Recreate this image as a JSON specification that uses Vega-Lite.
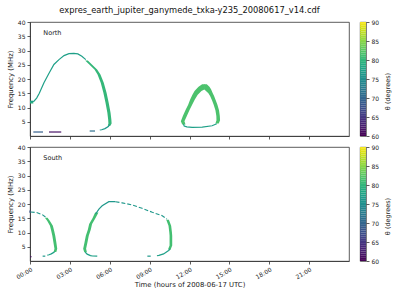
{
  "$schema": "https://vega.github.io/schema/vega-lite/v6.json",
  "padding": {"left": 5, "top": 5, "right": 5, "bottom": 5},
  "datasets": {
    "lines": [
      {"panel": "North", "seg": "n1", "i": 0, "t": 0, "f": 12, "theta": 77},
      {"panel": "North", "seg": "n1", "i": 1, "t": 0.3, "f": 12.2, "theta": 77},
      {"panel": "North", "seg": "n1", "i": 2, "t": 0.5, "f": 13.3, "theta": 77},
      {"panel": "North", "seg": "n1", "i": 3, "t": 0.7, "f": 15, "theta": 77},
      {"panel": "North", "seg": "n1", "i": 4, "t": 1.05, "f": 18.7, "theta": 77},
      {"panel": "North", "seg": "n1", "i": 5, "t": 1.43, "f": 22, "theta": 77},
      {"panel": "North", "seg": "n1", "i": 6, "t": 1.8, "f": 25.1, "theta": 77},
      {"panel": "North", "seg": "n1", "i": 7, "t": 2.18, "f": 26.8, "theta": 77},
      {"panel": "North", "seg": "n1", "i": 8, "t": 2.56, "f": 28.2, "theta": 77},
      {"panel": "North", "seg": "n1", "i": 9, "t": 2.93, "f": 28.9, "theta": 77},
      {"panel": "North", "seg": "n1", "i": 10, "t": 3.3, "f": 29, "theta": 77},
      {"panel": "North", "seg": "n1", "i": 11, "t": 3.6, "f": 28.8, "theta": 77},
      {"panel": "North", "seg": "n1", "i": 12, "t": 3.9, "f": 28, "theta": 77},
      {"panel": "North", "seg": "n1", "i": 13, "t": 4.2, "f": 26.8, "theta": 77},
      {"panel": "North", "seg": "n1t", "i": 0, "t": 6.0, "f": 4.0, "theta": 76},
      {"panel": "North", "seg": "n1t", "i": 1, "t": 5.89, "f": 3.3, "theta": 76},
      {"panel": "North", "seg": "n1t", "i": 2, "t": 5.64, "f": 2.6, "theta": 76},
      {"panel": "North", "seg": "n1t", "i": 3, "t": 5.39, "f": 2.2, "theta": 76},
      {"panel": "North", "seg": "n1t", "i": 4, "t": 5.25, "f": 2.1, "theta": 76},
      {"panel": "North", "seg": "nd1", "i": 0, "t": 0.25, "f": 1.4, "theta": 69},
      {"panel": "North", "seg": "nd1", "i": 1, "t": 0.98, "f": 1.4, "theta": 69},
      {"panel": "North", "seg": "nd2", "i": 0, "t": 1.43, "f": 1.4, "theta": 61.5},
      {"panel": "North", "seg": "nd2", "i": 1, "t": 2.35, "f": 1.4, "theta": 61.5},
      {"panel": "North", "seg": "nd3", "i": 0, "t": 4.49, "f": 1.75, "theta": 71},
      {"panel": "North", "seg": "nd3", "i": 1, "t": 4.89, "f": 1.75, "theta": 71},
      {"panel": "North", "seg": "tb", "i": 0, "t": 11.55, "f": 4.2, "theta": 77},
      {"panel": "North", "seg": "tb", "i": 1, "t": 11.6, "f": 3.5, "theta": 77},
      {"panel": "North", "seg": "tb", "i": 2, "t": 11.8, "f": 3.2, "theta": 77},
      {"panel": "North", "seg": "tb", "i": 3, "t": 12.2, "f": 3.05, "theta": 77},
      {"panel": "North", "seg": "tb", "i": 4, "t": 12.96, "f": 3.1, "theta": 77},
      {"panel": "North", "seg": "tb", "i": 5, "t": 13.7, "f": 3.6, "theta": 77},
      {"panel": "North", "seg": "tb", "i": 6, "t": 14.05, "f": 4.3, "theta": 77},
      {"panel": "South", "seg": "s0", "i": 0, "t": 0, "f": 1.5, "theta": 61},
      {"panel": "South", "seg": "s0", "i": 1, "t": 0.12, "f": 1.5, "theta": 61},
      {"panel": "South", "seg": "s00", "i": 0, "t": 0, "f": 16.9, "theta": 68},
      {"panel": "South", "seg": "s00", "i": 1, "t": 0, "f": 17.7, "theta": 68},
      {"panel": "South", "seg": "sat", "i": 0, "t": 1.85, "f": 3.2, "theta": 77},
      {"panel": "South", "seg": "sat", "i": 1, "t": 1.6, "f": 2.5, "theta": 77},
      {"panel": "South", "seg": "sat", "i": 2, "t": 1.43, "f": 2.2, "theta": 77},
      {"panel": "South", "seg": "sat", "i": 3, "t": 1.3, "f": 2.0, "theta": 77},
      {"panel": "South", "seg": "sad", "i": 0, "t": 0.95, "f": 1.7, "theta": 76},
      {"panel": "South", "seg": "sad", "i": 1, "t": 1.15, "f": 1.7, "theta": 76},
      {"panel": "South", "seg": "sbl", "i": 0, "t": 4.15, "f": 3.1, "theta": 77},
      {"panel": "South", "seg": "sbl", "i": 1, "t": 4.3, "f": 2.4, "theta": 77},
      {"panel": "South", "seg": "sbl", "i": 2, "t": 4.55, "f": 1.9, "theta": 77},
      {"panel": "South", "seg": "sbl", "i": 3, "t": 4.7, "f": 1.75, "theta": 77},
      {"panel": "South", "seg": "sbl", "i": 4, "t": 5.06, "f": 1.7, "theta": 77},
      {"panel": "South", "seg": "sbt", "i": 0, "t": 4.93, "f": 16.5, "theta": 76},
      {"panel": "South", "seg": "sbt", "i": 1, "t": 5.2, "f": 18.3, "theta": 76},
      {"panel": "South", "seg": "sbt", "i": 2, "t": 5.43, "f": 19.4, "theta": 76},
      {"panel": "South", "seg": "sbt", "i": 3, "t": 5.93, "f": 20.8, "theta": 76},
      {"panel": "South", "seg": "sbt", "i": 4, "t": 6.43, "f": 20.8, "theta": 76},
      {"panel": "South", "seg": "sbr", "i": 0, "t": 10.55, "f": 4.2, "theta": 77},
      {"panel": "South", "seg": "sbr", "i": 1, "t": 10.43, "f": 3.7, "theta": 77},
      {"panel": "South", "seg": "sbr", "i": 2, "t": 10.05, "f": 2.5, "theta": 77},
      {"panel": "South", "seg": "sbr", "i": 3, "t": 9.7, "f": 1.95, "theta": 77},
      {"panel": "South", "seg": "sbr", "i": 4, "t": 9.55, "f": 1.85, "theta": 77},
      {"panel": "South", "seg": "sbd", "i": 0, "t": 8.83, "f": 1.7, "theta": 76},
      {"panel": "South", "seg": "sbd", "i": 1, "t": 9.08, "f": 1.7, "theta": 76}
    ],
    "dotted": [
      {"panel": "South", "seg": "sa", "i": 0, "t": 0.05, "f": 17.2, "theta": 76},
      {"panel": "South", "seg": "sa", "i": 1, "t": 0.5, "f": 17.0, "theta": 76},
      {"panel": "South", "seg": "sa", "i": 2, "t": 0.92, "f": 16.3, "theta": 76},
      {"panel": "South", "seg": "sa", "i": 3, "t": 1.2, "f": 15.3, "theta": 76},
      {"panel": "South", "seg": "sbu", "i": 0, "t": 6.43, "f": 20.8, "theta": 76},
      {"panel": "South", "seg": "sbu", "i": 1, "t": 6.93, "f": 20.4, "theta": 76},
      {"panel": "South", "seg": "sbu", "i": 2, "t": 7.68, "f": 19.7, "theta": 76},
      {"panel": "South", "seg": "sbu", "i": 3, "t": 8.43, "f": 18.5, "theta": 76},
      {"panel": "South", "seg": "sbu", "i": 4, "t": 9.2, "f": 17.1, "theta": 76},
      {"panel": "South", "seg": "sbu", "i": 5, "t": 9.95, "f": 15.9, "theta": 76},
      {"panel": "South", "seg": "sbu", "i": 6, "t": 10.3, "f": 14.7, "theta": 76}
    ],
    "bands": [
      {"panel": "North", "seg": "n0", "f": 11.4, "t0": 0, "t1": 0.25, "theta": 79},
      {"panel": "North", "seg": "n0", "f": 12.4, "t0": 0, "t1": 0.25, "theta": 79},
      {"panel": "North", "seg": "n1b", "f": 26.5, "t0": 4.15, "t1": 4.35, "theta": 80},
      {"panel": "North", "seg": "n1b", "f": 25, "t0": 4.48, "t1": 4.68, "theta": 80},
      {"panel": "North", "seg": "n1b", "f": 23.3, "t0": 4.85, "t1": 5.05, "theta": 80},
      {"panel": "North", "seg": "n1b", "f": 21.6, "t0": 5.08, "t1": 5.3, "theta": 80},
      {"panel": "North", "seg": "n1b", "f": 18.7, "t0": 5.32, "t1": 5.55, "theta": 80},
      {"panel": "North", "seg": "n1b", "f": 15.2, "t0": 5.52, "t1": 5.76, "theta": 80},
      {"panel": "North", "seg": "n1b", "f": 11.7, "t0": 5.68, "t1": 5.92, "theta": 80},
      {"panel": "North", "seg": "n1b", "f": 8.2, "t0": 5.82, "t1": 6.06, "theta": 80},
      {"panel": "North", "seg": "n1b", "f": 5.8, "t0": 5.88, "t1": 6.12, "theta": 80},
      {"panel": "North", "seg": "n1b", "f": 4.4, "t0": 5.9, "t1": 6.14, "theta": 80},
      {"panel": "North", "seg": "n1b", "f": 3.6, "t0": 5.85, "t1": 6.05, "theta": 80},
      {"panel": "North", "seg": "tl", "f": 4.0, "t0": 11.45, "t1": 11.7, "theta": 81.5},
      {"panel": "North", "seg": "tl", "f": 5.2, "t0": 11.35, "t1": 11.62, "theta": 81.5},
      {"panel": "North", "seg": "tl", "f": 7.0, "t0": 11.5, "t1": 11.8, "theta": 81.5},
      {"panel": "North", "seg": "tl", "f": 9.3, "t0": 11.72, "t1": 12.02, "theta": 81.5},
      {"panel": "North", "seg": "tl", "f": 11, "t0": 11.9, "t1": 12.2, "theta": 81.5},
      {"panel": "North", "seg": "tl", "f": 12.8, "t0": 12.05, "t1": 12.4, "theta": 81.5},
      {"panel": "North", "seg": "tl", "f": 14.5, "t0": 12.22, "t1": 12.62, "theta": 81.5},
      {"panel": "North", "seg": "tl", "f": 15.8, "t0": 12.38, "t1": 12.9, "theta": 81.5},
      {"panel": "North", "seg": "tl", "f": 16.4, "t0": 12.5, "t1": 13.15, "theta": 81.5},
      {"panel": "North", "seg": "tl", "f": 17.3, "t0": 12.68, "t1": 13.15, "theta": 81.5},
      {"panel": "North", "seg": "tl", "f": 18.2, "t0": 12.95, "t1": 13.15, "theta": 81.5},
      {"panel": "North", "seg": "tr", "f": 18.2, "t0": 13.1, "t1": 13.3, "theta": 81.5},
      {"panel": "North", "seg": "tr", "f": 17.3, "t0": 13.1, "t1": 13.5, "theta": 81.5},
      {"panel": "North", "seg": "tr", "f": 16.4, "t0": 13.1, "t1": 13.62, "theta": 81.5},
      {"panel": "North", "seg": "tr", "f": 15, "t0": 13.42, "t1": 13.75, "theta": 81.5},
      {"panel": "North", "seg": "tr", "f": 14, "t0": 13.55, "t1": 13.85, "theta": 81.5},
      {"panel": "North", "seg": "tr", "f": 12.5, "t0": 13.7, "t1": 13.98, "theta": 81.5},
      {"panel": "North", "seg": "tr", "f": 11, "t0": 13.82, "t1": 14.1, "theta": 81.5},
      {"panel": "North", "seg": "tr", "f": 9, "t0": 13.95, "t1": 14.22, "theta": 81.5},
      {"panel": "North", "seg": "tr", "f": 7, "t0": 14.02, "t1": 14.28, "theta": 81.5},
      {"panel": "North", "seg": "tr", "f": 5.5, "t0": 14.03, "t1": 14.3, "theta": 81.5},
      {"panel": "North", "seg": "tr", "f": 4.4, "t0": 13.95, "t1": 14.2, "theta": 81.5},
      {"panel": "South", "seg": "sa", "f": 15.2, "t0": 1.12, "t1": 1.32, "theta": 81},
      {"panel": "South", "seg": "sa", "f": 14, "t0": 1.3, "t1": 1.5, "theta": 81},
      {"panel": "South", "seg": "sa", "f": 12.4, "t0": 1.5, "t1": 1.72, "theta": 81},
      {"panel": "South", "seg": "sa", "f": 10.5, "t0": 1.6, "t1": 1.82, "theta": 81},
      {"panel": "South", "seg": "sa", "f": 8.9, "t0": 1.68, "t1": 1.9, "theta": 81},
      {"panel": "South", "seg": "sa", "f": 6.6, "t0": 1.76, "t1": 1.98, "theta": 81},
      {"panel": "South", "seg": "sa", "f": 4.3, "t0": 1.84, "t1": 2.05, "theta": 81},
      {"panel": "South", "seg": "sa", "f": 3.2, "t0": 1.78, "t1": 1.98, "theta": 81},
      {"panel": "South", "seg": "sbl", "f": 17, "t0": 4.9, "t1": 5.15, "theta": 81},
      {"panel": "South", "seg": "sbl", "f": 15, "t0": 4.7, "t1": 4.92, "theta": 81},
      {"panel": "South", "seg": "sbl", "f": 13, "t0": 4.45, "t1": 4.67, "theta": 81},
      {"panel": "South", "seg": "sbl", "f": 11, "t0": 4.35, "t1": 4.57, "theta": 81},
      {"panel": "South", "seg": "sbl", "f": 8.9, "t0": 4.2, "t1": 4.42, "theta": 81},
      {"panel": "South", "seg": "sbl", "f": 6.5, "t0": 4.1, "t1": 4.32, "theta": 81},
      {"panel": "South", "seg": "sbl", "f": 4.3, "t0": 4.0, "t1": 4.22, "theta": 81},
      {"panel": "South", "seg": "sbl", "f": 3.1, "t0": 4.08, "t1": 4.28, "theta": 81},
      {"panel": "South", "seg": "sbr", "f": 14.5, "t0": 10.25, "t1": 10.45, "theta": 81},
      {"panel": "South", "seg": "sbr", "f": 12.4, "t0": 10.42, "t1": 10.62, "theta": 81},
      {"panel": "South", "seg": "sbr", "f": 10, "t0": 10.48, "t1": 10.68, "theta": 81},
      {"panel": "South", "seg": "sbr", "f": 8.9, "t0": 10.5, "t1": 10.7, "theta": 81},
      {"panel": "South", "seg": "sbr", "f": 5.4, "t0": 10.5, "t1": 10.7, "theta": 81},
      {"panel": "South", "seg": "sbr", "f": 4, "t0": 10.38, "t1": 10.58, "theta": 81}
    ],
    "labels": [
      {"panel": "North", "t": 1.0, "f": 36.3, "label": "North"},
      {"panel": "South", "t": 1.0, "f": 36.3, "label": "South"}
    ],
    "cbar": [
      {"lo": 60, "hi": 60.5}, {"lo": 60.5, "hi": 61}, {"lo": 61, "hi": 61.5}, {"lo": 61.5, "hi": 62},
      {"lo": 62, "hi": 62.5}, {"lo": 62.5, "hi": 63}, {"lo": 63, "hi": 63.5}, {"lo": 63.5, "hi": 64},
      {"lo": 64, "hi": 64.5}, {"lo": 64.5, "hi": 65}, {"lo": 65, "hi": 65.5}, {"lo": 65.5, "hi": 66},
      {"lo": 66, "hi": 66.5}, {"lo": 66.5, "hi": 67}, {"lo": 67, "hi": 67.5}, {"lo": 67.5, "hi": 68},
      {"lo": 68, "hi": 68.5}, {"lo": 68.5, "hi": 69}, {"lo": 69, "hi": 69.5}, {"lo": 69.5, "hi": 70},
      {"lo": 70, "hi": 70.5}, {"lo": 70.5, "hi": 71}, {"lo": 71, "hi": 71.5}, {"lo": 71.5, "hi": 72},
      {"lo": 72, "hi": 72.5}, {"lo": 72.5, "hi": 73}, {"lo": 73, "hi": 73.5}, {"lo": 73.5, "hi": 74},
      {"lo": 74, "hi": 74.5}, {"lo": 74.5, "hi": 75}, {"lo": 75, "hi": 75.5}, {"lo": 75.5, "hi": 76},
      {"lo": 76, "hi": 76.5}, {"lo": 76.5, "hi": 77}, {"lo": 77, "hi": 77.5}, {"lo": 77.5, "hi": 78},
      {"lo": 78, "hi": 78.5}, {"lo": 78.5, "hi": 79}, {"lo": 79, "hi": 79.5}, {"lo": 79.5, "hi": 80},
      {"lo": 80, "hi": 80.5}, {"lo": 80.5, "hi": 81}, {"lo": 81, "hi": 81.5}, {"lo": 81.5, "hi": 82},
      {"lo": 82, "hi": 82.5}, {"lo": 82.5, "hi": 83}, {"lo": 83, "hi": 83.5}, {"lo": 83.5, "hi": 84},
      {"lo": 84, "hi": 84.5}, {"lo": 84.5, "hi": 85}, {"lo": 85, "hi": 85.5}, {"lo": 85.5, "hi": 86},
      {"lo": 86, "hi": 86.5}, {"lo": 86.5, "hi": 87}, {"lo": 87, "hi": 87.5}, {"lo": 87.5, "hi": 88},
      {"lo": 88, "hi": 88.5}, {"lo": 88.5, "hi": 89}, {"lo": 89, "hi": 89.5}, {"lo": 89.5, "hi": 90}
    ]
  },
  "spacing": 3,
  "vconcat": [
    {
      "bounds": "flush",
      "spacing": 11,
      "resolve": {"scale": {"y": "independent", "x": "independent"}},
      "hconcat": [
        {
          "title": {"text": "expres_earth_jupiter_ganymede_txka-y235_20080617_v14.cdf", "fontSize": 8.3, "fontWeight": "normal", "frame": "group", "anchor": "middle", "offset": 5, "color": "#111"},
          "width": 319,
          "height": 114,
          "layer": [
            {
              "data": {"name": "bands"},
              "transform": [{"filter": "datum.panel == 'North'"}],
              "mark": {"type": "area", "orient": "horizontal"},
              "encoding": {
                "y": {"field": "f", "type": "quantitative", "scale": {"domain": [0, 40], "nice": false}, "axis": {"tickCount": 8, "labelExpr": "datum.value == 0 ? '' : datum.label", "tickOpacity": {"condition": {"test": "datum.value == 0", "value": 0}, "value": 1}, "title": "Frequency (MHz)"}},
                "x": {"field": "t0", "type": "quantitative", "scale": {"domain": [0, 24], "nice": false, "zero": false}, "axis": {"values": [0, 3, 6, 9, 12, 15, 18, 21], "labels": false, "title": null}},
                "x2": {"field": "t1"},
                "color": {"field": "theta", "type": "quantitative", "scale": {"scheme": "viridis", "domain": [60, 90]}, "legend": null},
                "detail": {"field": "seg"}
              }
            },
            {
              "data": {"name": "lines"},
              "transform": [{"filter": "datum.panel == 'North'"}],
              "mark": {"type": "line", "strokeWidth": 1.2},
              "encoding": {
                "x": {"field": "t", "type": "quantitative"},
                "y": {"field": "f", "type": "quantitative"},
                "stroke": {"field": "theta", "type": "quantitative", "scale": {"scheme": "viridis", "domain": [60, 90]}, "legend": null},
                "detail": {"field": "seg"},
                "order": {"field": "i"}
              }
            },
            {
              "data": {"name": "labels"},
              "transform": [{"filter": "datum.panel == 'North'"}],
              "mark": {"type": "text", "align": "left", "baseline": "middle", "fontSize": 6.5, "color": "#222"},
              "encoding": {
                "x": {"field": "t", "type": "quantitative"},
                "y": {"field": "f", "type": "quantitative"},
                "text": {"field": "label"}
              }
            }
          ]
        },
        {
          "width": 6,
          "height": 114,
          "data": {"name": "cbar"},
          "mark": {"type": "rect"},
          "encoding": {
            "y": {"field": "lo", "type": "quantitative", "scale": {"domain": [60, 90], "nice": false, "zero": false}, "axis": {"orient": "right", "tickCount": 7, "title": "θ (degrees)", "titleAngle": 270, "titleBaseline": "top", "titleFontSize": 6.5, "titlePadding": 6, "titleY": 69, "domain": false}},
            "y2": {"field": "hi"},
            "color": {"field": "lo", "type": "quantitative", "scale": {"scheme": "viridis", "domain": [60, 90]}, "legend": null}
          }
        }
      ]
    },
    {
      "bounds": "flush",
      "spacing": 11,
      "resolve": {"scale": {"y": "independent", "x": "independent"}},
      "hconcat": [
        {
          "width": 319,
          "height": 114,
          "layer": [
            {
              "data": {"name": "bands"},
              "transform": [{"filter": "datum.panel == 'South'"}],
              "mark": {"type": "area", "orient": "horizontal"},
              "encoding": {
                "y": {"field": "f", "type": "quantitative", "scale": {"domain": [0, 40], "nice": false}, "axis": {"tickCount": 8, "labelExpr": "datum.value == 0 ? '' : datum.label", "tickOpacity": {"condition": {"test": "datum.value == 0", "value": 0}, "value": 1}, "title": "Frequency (MHz)"}},
                "x": {"field": "t0", "type": "quantitative", "scale": {"domain": [0, 24], "nice": false, "zero": false}, "axis": {"values": [0, 3, 6, 9, 12, 15, 18, 21], "labelExpr": "(datum.value < 10 ? '0' : '') + datum.value + ':00'", "labelAngle": -30, "title": "Time (hours of 2008-06-17 UTC)", "titlePadding": 2}},
                "x2": {"field": "t1"},
                "color": {"field": "theta", "type": "quantitative", "scale": {"scheme": "viridis", "domain": [60, 90]}, "legend": null},
                "detail": {"field": "seg"}
              }
            },
            {
              "data": {"name": "lines"},
              "transform": [{"filter": "datum.panel == 'South'"}],
              "mark": {"type": "line", "strokeWidth": 1.2},
              "encoding": {
                "x": {"field": "t", "type": "quantitative"},
                "y": {"field": "f", "type": "quantitative"},
                "stroke": {"field": "theta", "type": "quantitative", "scale": {"scheme": "viridis", "domain": [60, 90]}, "legend": null},
                "detail": {"field": "seg"},
                "order": {"field": "i"}
              }
            },
            {
              "data": {"name": "dotted"},
              "transform": [{"filter": "datum.panel == 'South'"}],
              "mark": {"type": "line", "strokeWidth": 1.1, "strokeDash": [4, 2]},
              "encoding": {
                "x": {"field": "t", "type": "quantitative"},
                "y": {"field": "f", "type": "quantitative"},
                "stroke": {"field": "theta", "type": "quantitative", "legend": null},
                "detail": {"field": "seg"},
                "order": {"field": "i"}
              }
            },
            {
              "data": {"name": "labels"},
              "transform": [{"filter": "datum.panel == 'South'"}],
              "mark": {"type": "text", "align": "left", "baseline": "middle", "fontSize": 6.5, "color": "#222"},
              "encoding": {
                "x": {"field": "t", "type": "quantitative"},
                "y": {"field": "f", "type": "quantitative"},
                "text": {"field": "label"}
              }
            }
          ]
        },
        {
          "width": 6,
          "height": 114,
          "data": {"name": "cbar"},
          "mark": {"type": "rect"},
          "encoding": {
            "y": {"field": "lo", "type": "quantitative", "scale": {"domain": [60, 90], "nice": false, "zero": false}, "axis": {"orient": "right", "tickCount": 7, "title": "θ (degrees)", "titleAngle": 270, "titleBaseline": "top", "titleFontSize": 6.5, "titlePadding": 6, "titleY": 69, "domain": false}},
            "y2": {"field": "hi"},
            "color": {"field": "lo", "type": "quantitative", "scale": {"scheme": "viridis", "domain": [60, 90]}, "legend": null}
          }
        }
      ]
    }
  ],
  "config": {
    "font": "DejaVu Sans",
    "view": {"stroke": "#333333", "strokeWidth": 0.8},
    "axis": {"labelFontSize": 6, "titleFontSize": 6.9, "titleFontWeight": "normal", "tickSize": 3, "tickColor": "#333333", "domainColor": "#333333", "domainWidth": 0.8, "tickWidth": 0.8, "labelColor": "#222222", "titleColor": "#222222", "grid": false, "labelPadding": 2, "titlePadding": 4}
  }
}
